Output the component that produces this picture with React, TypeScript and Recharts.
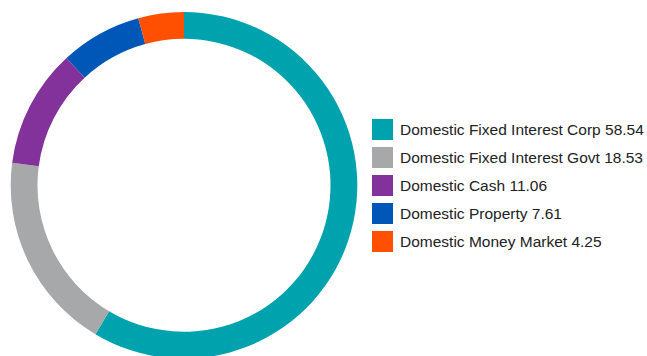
import { PieChart, Pie, Cell } from "recharts"

const categories = [
  "Domestic Fixed Interest Corp",
  "Domestic Fixed Interest Govt",
  "Domestic Cash",
  "Domestic Property",
  "Domestic Money Market",
]
const values = [58.54, 18.53, 11.06, 7.61, 4.25]
const colors = ["#00a3ad", "#a7a8aa", "#84329b", "#0057b8", "#ff4f00"]

const data = categories.map((name, i) => ({ name, value: values[i] }))

function ChartLegend() {
  return (
    <div style={{ position: "absolute", left: 372, top: 115.5 }}>
      {data.map((d, i) => (
        <div key={d.name} style={{ display: "flex", alignItems: "center", height: 28 }}>
          <div style={{ width: 21, height: 21, background: colors[i], marginRight: 7, flexShrink: 0 }} />
          <div style={{ fontFamily: "Arial, 'Liberation Sans', sans-serif", fontSize: "15.5px", color: "#222", whiteSpace: "nowrap" }}>
            {d.name} {d.value.toFixed(2)}
          </div>
        </div>
      ))}
    </div>
  )
}

export default function App() {
  return (
    <div style={{ position: "absolute", left: 0, top: 0, width: 647, height: 356 }}>
      <PieChart width={647} height={356} margin={{ top: 0, right: 0, bottom: 0, left: 0 }}>
        <Pie
          data={data}
          dataKey="value"
          nameKey="name"
          cx={184}
          cy={185.3}
          innerRadius={146.5}
          outerRadius={173.3}
          startAngle={90}
          endAngle={-270}
          stroke="none"
          isAnimationActive={false}
        >
          {data.map((d, i) => (
            <Cell key={d.name} fill={colors[i]} />
          ))}
        </Pie>
      </PieChart>
      <ChartLegend />
    </div>
  )
}
